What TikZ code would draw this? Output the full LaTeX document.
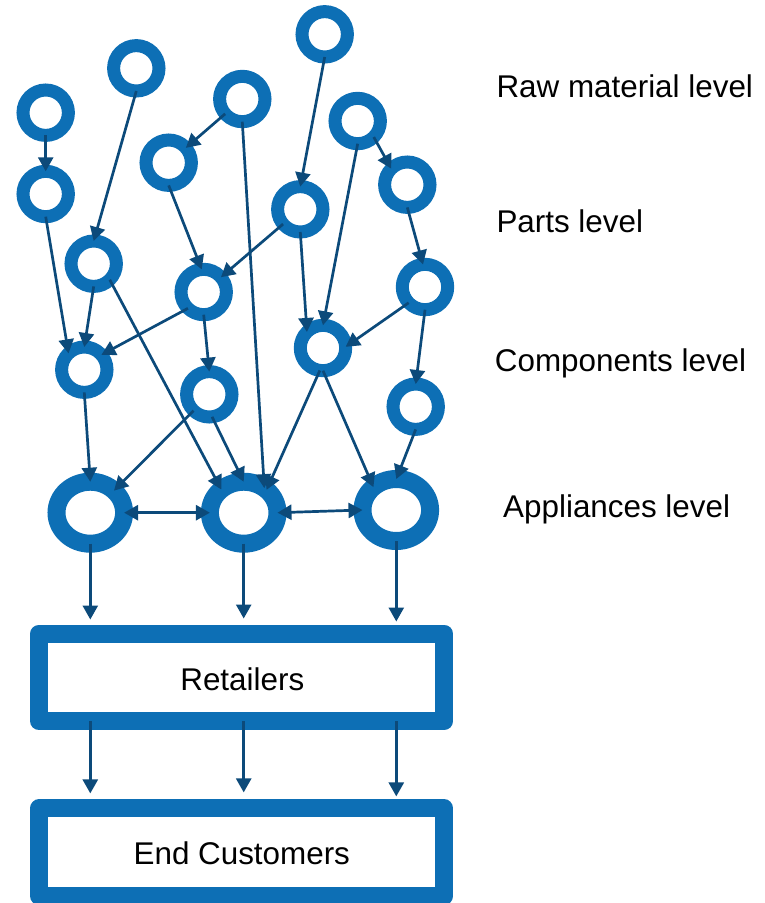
\documentclass[tikz,border=0pt]{standalone}
\usepackage{fontspec}
\setmainfont{Liberation Sans}
\usetikzlibrary{arrows.meta,shapes.geometric}
\definecolor{ringblue}{RGB}{13,111,181}
\definecolor{arrowblue}{RGB}{12,74,122}
\tikzset{
  ring/.style={circle,draw=ringblue,line width=13pt,minimum size=45.4pt,inner sep=0pt,outer sep=0pt},
  bigring/.style={ellipse,draw=ringblue,line width=18pt,minimum width=67.6pt,minimum height=62pt,inner sep=0pt,outer sep=0pt},
  levelbox/.style={rectangle,draw=ringblue,line width=18pt,line join=round,minimum width=405pt,minimum height=87.8pt,inner sep=0pt,outer sep=0pt},
  conn/.style={-{Triangle[length=14pt,width=15pt]},draw=arrowblue,line width=2.7pt},
  biconn/.style={{Triangle[length=14pt,width=15pt]}-{Triangle[length=14pt,width=15pt]},draw=arrowblue,line width=2.7pt},
  lvl/.style={anchor=base west,inner sep=0pt,font=\fontsize{31.4pt}{36pt}\selectfont},
  boxtext/.style={anchor=base,inner sep=0pt,font=\fontsize{31.4pt}{36pt}\selectfont}
}
\begin{document}
\begin{tikzpicture}[x=1pt,y=-1pt]
\useasboundingbox (0,0) rectangle (765,903);
\clip (0,0) rectangle (765,903);
% small rings
\node[ring] (n1) at (45.7,112.7) {};
\node[ring] (n2) at (45.7,194) {};
\node[ring] (n3) at (136.3,68.3) {};
\node[ring] (n4) at (242.3,99) {};
\node[ring] (n5) at (168.7,162.7) {};
\node[ring] (n6) at (324.7,34.3) {};
\node[ring] (n7) at (357.7,121) {};
\node[ring] (n8) at (407.3,184.7) {};
\node[ring] (n9) at (300.3,209.3) {};
\node[ring] (n10) at (93.7,263.7) {};
\node[ring] (n11) at (203.7,292) {};
\node[ring] (n12) at (425,287) {};
\node[ring] (n13) at (84.3,369.7) {};
\node[ring] (n14) at (323,348) {};
\node[ring] (n15) at (209.3,394.3) {};
\node[ring] (n16) at (415.7,406.7) {};
% appliance rings
\node[bigring] (a1) at (90.3,512.7) {};
\node[bigring] (a2) at (243.7,512.7) {};
\node[bigring] (a3) at (396.3,510) {};
% boxes
\node[levelbox] (ret) at (241.7,677.4) {};
\node[levelbox] (endc) at (241.7,852.3) {};
\node[boxtext] (rett) at (242.3,690) {Retailers};
\node[boxtext] (endt) at (241.8,864.3) {End Customers};
% level labels
\node[lvl] (lraw) at (496.3,97.3) {Raw material level};
\node[lvl] (lparts) at (496.3,232.3) {Parts level};
\node[lvl] (lcomp) at (494.7,371.7) {Components level};
\node[lvl] (lappl) at (503,517.3) {Appliances level};
% connectors
\draw[conn] (n1.south) -- (n2.north);
\draw[conn] (n3.south) -- (n10.north);
\draw[conn] (n4) -- (n5);
\draw[conn] (n4.south) -- (a2.50);
\draw[conn] (n6.south) -- (n9.north);
\draw[conn] (n7.-45) -- (n8.135);
\draw[conn] (n7.south) -- (n14.north);
\draw[conn] (n9) -- (n11);
\draw[conn] (n9.south) -- (n14.135);
\draw[conn] (n5.south) -- (n11.95);
\draw[conn] (n2.south) -- (n13.134);
\draw[conn] (n8.south) -- (n12.95);
\draw[conn] (n10.south) -- (n13.north);
\draw[conn] (n10.-45) -- (a2.134);
\draw[conn] (n11.226) -- (n13.41);
\draw[conn] (n11.south) -- (n15.north);
\draw[conn] (n12.224) -- (n14.3);
\draw[conn] (n12.south) -- (n16.north);
\draw[conn] (n13.south) -- (a1.north);
\draw[conn] (n15.226) -- (a1.43);
\draw[conn] (n15.-83) -- (a2.north);
\draw[conn] (n14.-98) -- (a2.45);
\draw[conn] (n14.south) -- (a3.135);
\draw[conn] (n16.south) -- (a3.north);
\draw[biconn] (a1.east) -- (a2.west);
\draw[biconn] (a2.east) -- (a3.west);
% to retailers
\draw[conn,shorten >=14pt] (a1.south) -- (a1.south |- ret.north);
\draw[conn,shorten >=15pt] (a2.south) -- (a2.south |- ret.north);
\draw[conn,shorten >=12pt] (a3.south) -- (a3.south |- ret.north);
% to end customers
\draw[conn,shorten >=15pt] (a1.south |- ret.south) -- (a1.south |- endc.north);
\draw[conn,shorten >=16pt] (a2.south |- ret.south) -- (a2.south |- endc.north);
\draw[conn,shorten >=12pt] (a3.south |- ret.south) -- (a3.south |- endc.north);
\end{tikzpicture}
\end{document}
